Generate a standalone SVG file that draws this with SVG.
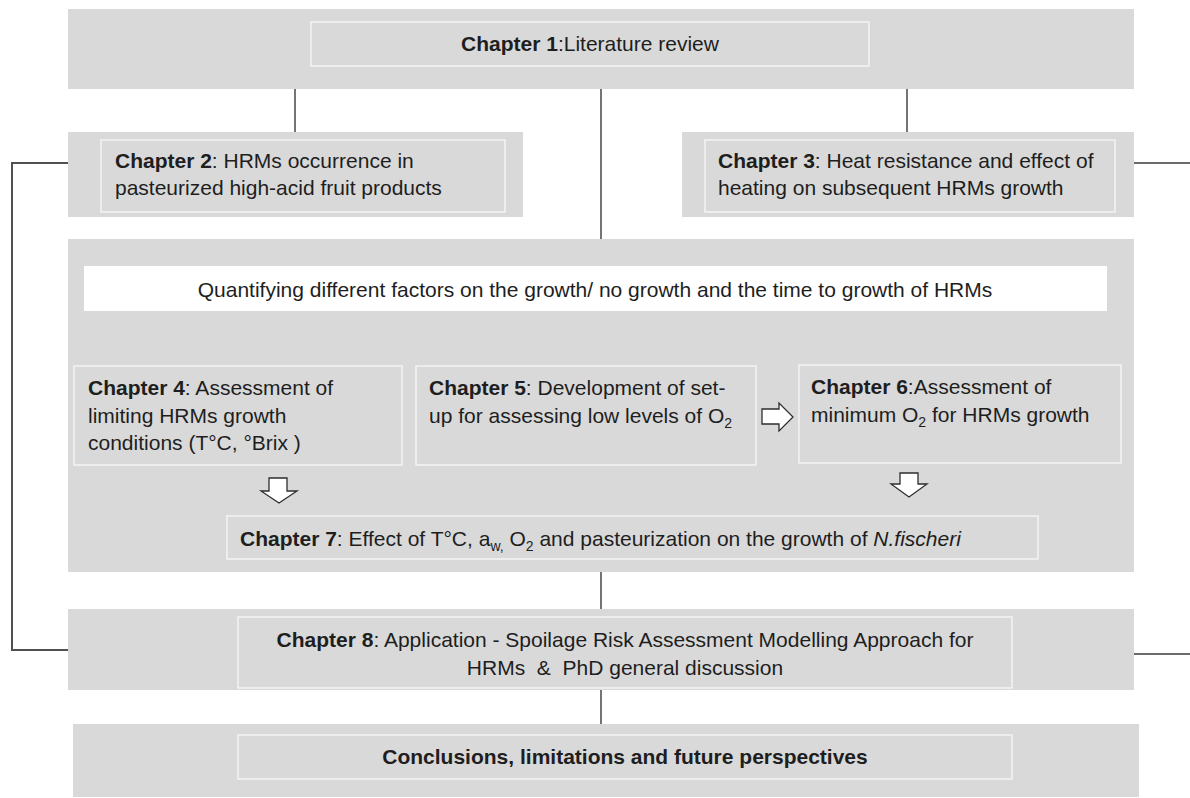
<svg xmlns="http://www.w3.org/2000/svg" width="1190" height="798" viewBox="0 0 1190 798">
  <style>
    .band { fill: #d9d9d9; }
    .box { fill: #d9d9d9; stroke: #f4f4f4; stroke-width: 1.5; }
    .white { fill: #ffffff; }
    .t { font-family: "Liberation Sans", Arial, sans-serif; font-size: 21px; fill: #1e1e1e; }
    .b { font-weight: bold; }
    .sub { font-size: 14px; }
    .link { stroke: #3a3a3a; stroke-width: 1.4; fill: none; }
    .side { stroke: #505050; stroke-width: 2; fill: none; }
    .blk { fill: #ffffff; stroke: #2e2e2e; stroke-width: 1.3; stroke-linejoin: miter; }
  </style>

  <rect width="1190" height="798" fill="#ffffff"/>

  <!-- chapter 1 -->
  <g id="ch1">
    <rect class="band" x="68" y="9" width="1066" height="80"/>
    <rect class="box" x="311" y="22" width="558" height="44"/>
    <text class="t" x="590" y="51" text-anchor="middle"><tspan class="b">Chapter 1</tspan>:Literature review</text>
  </g>

  <!-- chapter 2 -->
  <g id="ch2">
    <rect class="band" x="68" y="132" width="455" height="85"/>
    <rect class="box" x="101" y="140" width="404" height="72"/>
    <text class="t" x="115" y="168"><tspan class="b">Chapter 2</tspan>: HRMs occurrence in</text>
    <text class="t" x="115" y="195">pasteurized high-acid fruit products</text>
  </g>

  <!-- chapter 3 -->
  <g id="ch3">
    <rect class="band" x="682" y="132" width="452" height="85"/>
    <rect class="box" x="705" y="140" width="410" height="72"/>
    <text class="t" x="718" y="168"><tspan class="b">Chapter 3</tspan>: Heat resistance and effect of</text>
    <text class="t" x="718" y="195">heating on subsequent HRMs growth</text>
  </g>

  <!-- experimental block -->
  <g id="experimental">
    <rect class="band" x="68" y="239" width="1066" height="333"/>
    <rect class="white" x="84" y="266" width="1023" height="45"/>
    <text class="t" x="595" y="297" text-anchor="middle">Quantifying different factors on the growth/ no growth and the time to growth of HRMs</text>
  </g>

  <g id="ch4">
    <rect class="box" x="74" y="366" width="328" height="99"/>
    <text class="t" x="88" y="395"><tspan class="b">Chapter 4</tspan>: Assessment of</text>
    <text class="t" x="88" y="423">limiting HRMs growth</text>
    <text class="t" x="88" y="450">conditions (T°C, °Brix )</text>
  </g>

  <g id="ch5">
    <rect class="box" x="416" y="366" width="340" height="99"/>
    <text class="t" x="429" y="395"><tspan class="b">Chapter 5</tspan>: Development of set-</text>
    <text class="t" x="429" y="423">up for assessing low levels of O<tspan class="sub" dy="5">2</tspan></text>
  </g>

  <g id="ch6">
    <rect class="box" x="799" y="365" width="322" height="98"/>
    <text class="t" x="811" y="394"><tspan class="b">Chapter 6</tspan>:Assessment of</text>
    <text class="t" x="811" y="422">minimum O<tspan class="sub" dy="5">2</tspan><tspan dy="-5"> for HRMs growth</tspan></text>
  </g>

  <g id="ch7">
    <rect class="box" x="227" y="516" width="811" height="43"/>
    <text class="t" x="240" y="546"><tspan class="b">Chapter 7</tspan>: Effect of T°C, a<tspan class="sub" dy="5">w,</tspan><tspan dy="-5"> O</tspan><tspan class="sub" dy="5">2</tspan><tspan dy="-5"> and pasteurization on the growth of </tspan><tspan font-style="italic">N.fischeri</tspan></text>
  </g>

  <!-- chapter 8 -->
  <g id="ch8">
    <rect class="band" x="68" y="609" width="1066" height="81"/>
    <rect class="box" x="238" y="617" width="774" height="71"/>
    <text class="t" x="625" y="647" text-anchor="middle"><tspan class="b">Chapter 8</tspan>: Application - Spoilage Risk Assessment Modelling Approach for</text>
    <text class="t" x="625" y="675" text-anchor="middle" xml:space="preserve">HRMs  &amp;  PhD general discussion</text>
  </g>

  <!-- conclusions -->
  <g id="conclusions">
    <rect class="band" x="73" y="724" width="1066" height="73"/>
    <rect class="box" x="238" y="735" width="774" height="44"/>
    <text class="t b" x="625" y="764" text-anchor="middle">Conclusions, limitations and future perspectives</text>
  </g>

  <!-- connectors and block arrows, drawn on top of the bands -->
  <g id="connectors">
    <line class="link" x1="295" y1="89" x2="295" y2="132"/>
    <line class="link" x1="601" y1="89" x2="601" y2="239"/>
    <line class="link" x1="907" y1="89" x2="907" y2="132"/>
    <line class="link" x1="601" y1="572" x2="601" y2="609"/>
    <line class="link" x1="601" y1="690" x2="601" y2="724"/>
    <polyline class="side" points="68,163 12,163 12,650 68,650"/>
    <line class="link" x1="1134" y1="163" x2="1190" y2="163"/>
    <line class="link" x1="1134" y1="654" x2="1190" y2="654"/>
    <polygon class="blk" points="762,409 779,409 779,403 793,417 779,431 779,424 762,424"/>
    <polygon class="blk" points="269,478 287,478 287,491 297,491 279,503 261,491 269,491"/>
    <polygon class="blk" points="900,473 918,473 918,484 927,484 909,497 891,484 900,484"/>
  </g>
</svg>
